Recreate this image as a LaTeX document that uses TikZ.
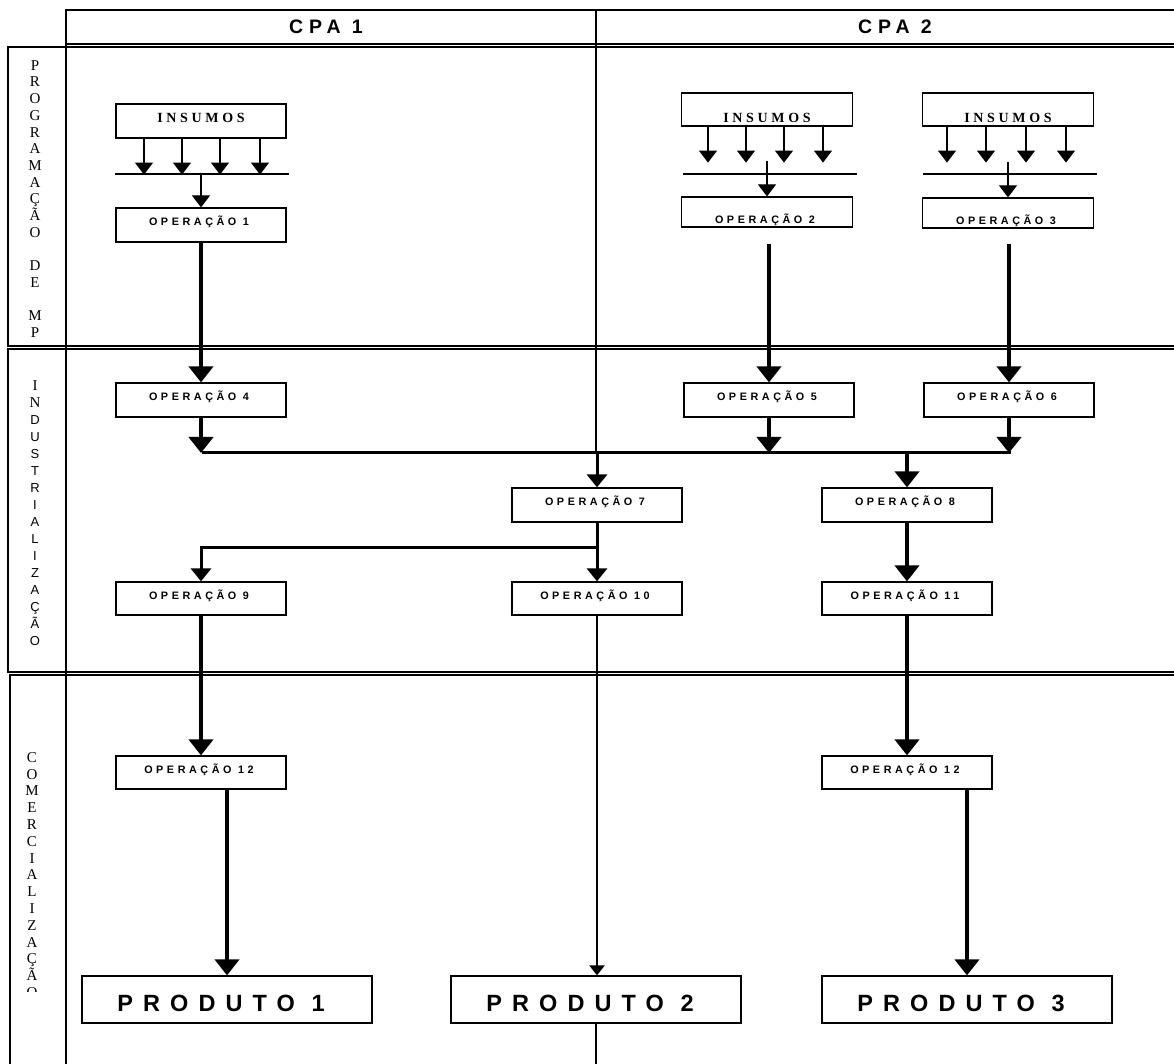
\documentclass[tikz,border=0pt]{standalone}
\usepackage{fontspec}
\setmainfont{Liberation Serif}
\setsansfont{Liberation Sans}
\newfontfamily\opfont[LetterSpace=33]{Liberation Sans}
\newfontfamily\prodfont[LetterSpace=43]{Liberation Sans}
\newfontfamily\cpafont[LetterSpace=30]{Liberation Sans}
\newfontfamily\insfont[LetterSpace=26]{Liberation Serif}
\newfontfamily\lanesans{Liberation Sans}
\newfontfamily\laneserif{Liberation Serif}
\usetikzlibrary{arrows.meta}
\tikzset{
  frame/.style={line width=0.6pt},
  opbox/.style={draw, line width=0.6pt, minimum width=85pt, minimum height=17pt, inner sep=0pt,
    font=\opfont\bfseries\fontsize{5.4}{6.5}\selectfont, text height=3.9pt, text depth=3pt,
    execute at end node={\hspace{2pt}}},
  oplow/.style={minimum height=15pt, text height=11.9pt, text depth=0pt},
  insbox/.style={draw, line width=0.6pt, minimum width=85pt, minimum height=17pt, inner sep=0pt,
    font=\insfont\bfseries\fontsize{7}{8}\selectfont, text height=4.6pt, text depth=3pt},
  inslow/.style={minimum height=16.5pt, text height=12.6pt, text depth=0pt},
  prodbox/.style={draw, line width=0.6pt, minimum width=145pt, minimum height=23.5pt, inner sep=0pt,
    font=\prodfont\bfseries\fontsize{11.75}{13}\selectfont, text height=12.4pt, text depth=0pt,
    execute at end node={\hspace{6pt}}},
  cpatext/.style={font=\cpafont\bfseries\fontsize{9.75}{11}\selectfont, inner sep=0pt},
  thickarrow/.style={line width=2pt, -{Triangle[width=12pt,length=8pt]}},
  medarrow/.style={line width=1.5pt, -{Triangle[width=10pt,length=6.5pt]}},
  medline/.style={line width=1.5pt},
  thinarrow/.style={line width=1.1pt, -{Triangle[width=7.5pt,length=5pt]}},
  smallarrow/.style={line width=0.6pt, -{Triangle[width=9pt,length=6pt]}},
  lanelabel/.style={align=center, inner sep=0pt, anchor=north},
}
\begin{document}
\begin{tikzpicture}[x=0.5pt,y=-0.5pt]
\useasboundingbox (0,0) rectangle (1174,1064);

% ---- frame ----
\draw[frame] (1180,10) -- (66,10) -- (66,44) -- (1180,44);
\draw[frame] (1180,47) -- (8,47) -- (8,346) -- (1180,346);
\draw[frame] (1180,349) -- (8,349) -- (8,672) -- (1180,672);
\draw[frame] (1180,675) -- (10,675) -- (10,1070);
\draw[frame] (66,10) -- (66,1070);
\draw[frame] (596,10) -- (596,453);

\node[cpatext] (cpa1) at (326,27) {CPA 1};
\node[cpatext] (cpa2) at (895,27) {CPA 2};

% ---- lane labels ----
\node[lanelabel, font=\laneserif\fontsize{7.5}{8.35}\selectfont] (l1) at (35,60)
  {P\\R\\O\\G\\R\\A\\M\\A\\Ç\\Ã\\O\\[8.35pt]D\\E\\[8.35pt]M\\P};
\node[lanelabel, font=\lanesans\fontsize{6.5}{8.5}\selectfont] (l2) at (35,380)
  {{\laneserif\fontsize{7.5}{8.5}\selectfont I}\\{\laneserif\fontsize{7.5}{8.5}\selectfont N}\\D\\U\\S\\T\\R\\I\\A\\L\\I\\Z\\A\\Ç\\Ã\\O};
\begin{scope}
\clip (12,677) rectangle (64,991);
\node[lanelabel, font=\laneserif\fontsize{7.5}{8.4}\selectfont] (l3) at (32,752)
  {C\\O\\M\\E\\R\\C\\I\\A\\L\\I\\Z\\A\\Ç\\Ã\\O};
\end{scope}

% ---- boxes ----
\node[insbox] (ins1) at (201,121) {INSUMOS};
\node[opbox] (op1) at (201,225) {OPERAÇÃO 1};
\node[insbox, inslow, minimum width=85.5pt] (ins2) at (767,109.5) {INSUMOS};
\node[opbox, oplow, minimum width=85.5pt] (op2) at (767,212) {OPERAÇÃO 2};
\node[insbox, inslow, minimum width=85.5pt] (ins3) at (1008,109.5) {INSUMOS};
\node[opbox, oplow, minimum width=85.5pt] (op3) at (1008,213) {OPERAÇÃO 3};

\node[opbox] (op4) at (201,400) {OPERAÇÃO 4};
\node[opbox] (op5) at (769,400) {OPERAÇÃO 5};
\node[opbox] (op6) at (1009,400) {OPERAÇÃO 6};
\node[opbox] (op7) at (597,505) {OPERAÇÃO 7};
\node[opbox] (op8) at (907,505) {OPERAÇÃO 8};
\node[opbox, minimum height=16.5pt] (op9) at (201,598.5) {OPERAÇÃO 9};
\node[opbox, minimum height=16.5pt] (op10) at (597,598.5) {OPERAÇÃO 10};
\node[opbox, minimum height=16.5pt] (op11) at (907,598.5) {OPERAÇÃO 11};
\node[opbox, minimum height=16.5pt] (op12a) at (201,772.5) {OPERAÇÃO 12};
\node[opbox, minimum height=16.5pt] (op12b) at (907,772.5) {OPERAÇÃO 12};

\node[prodbox] (p1) at (227,999.5) {PRODUTO 1};
\node[prodbox] (p2) at (596,999.5) {PRODUTO 2};
\node[prodbox] (p3) at (967,999.5) {PRODUTO 3};

% ---- insumos bars ----
\coordinate (b1) at (202,174);
\draw[frame] (115,174) -- (289,174);
\draw[frame] (683,174) -- (857,174);
\draw[frame] (923,174) -- (1097,174);
\foreach \dx in {-28.5,-9.5,9.5,29.5}
  \draw[smallarrow] ([xshift=\dx pt]ins1.south) -- ++(0,36);
\foreach \dx in {-29.5,-10.5,8.5,28}
  \draw[smallarrow] ([xshift=\dx pt]ins2.south) -- ++(0,36);
\foreach \dx in {-30.5,-11,9,29}
  \draw[smallarrow] ([xshift=\dx pt]ins3.south) -- ++(0,36);
\draw[smallarrow] (op1.north |- b1) -- (op1.north);
\draw[smallarrow] (op2.north) ++(0,-35) -- (op2.north);
\draw[smallarrow] (op3.north) ++(0,-35) -- (op3.north);

% ---- connectors ----
\draw[thickarrow] (op1.south) -- (op4.north);
\draw[thickarrow] (op5.north |- op2.south) ++(0,16) -- (op5.north);
\draw[thickarrow] (op6.north |- op3.south) ++(0,15) -- (op6.north);

\coordinate (mL) at (202,453);
\coordinate (mR) at (1011,453);
\draw[medline] (mL) -- (mR);
\draw[thickarrow] (op4.south) -- (op4.south |- mL);
\draw[thickarrow] (op5.south) -- (op5.south |- mL);
\draw[thickarrow] (op6.south) -- (op6.south |- mL);
\draw[medarrow] (op7.north |- mL) -- (op7.north);
\draw[thickarrow] (op8.north |- mL) -- (op8.north);

\coordinate (br) at (597,547);
\draw[medarrow] (op7.south) -- (op10.north);
\draw[medarrow] (br) -| (op9.north);
\draw[thickarrow] (op8.south) -- (op11.north);

\draw[thickarrow] (op9.south) -- (op12a.north);
\draw[thickarrow] (op11.south) -- (op12b.north);
\draw[thickarrow] (op12a.south -| p1.north) -- (p1.north);
\draw[thickarrow] (op12b.south -| p3.north) -- (p3.north);
\draw[thinarrow] (op10.south) -- (op10.south |- p2.north);
\draw[frame] (p2.south) -- ++(0,50);
\end{tikzpicture}
\end{document}
